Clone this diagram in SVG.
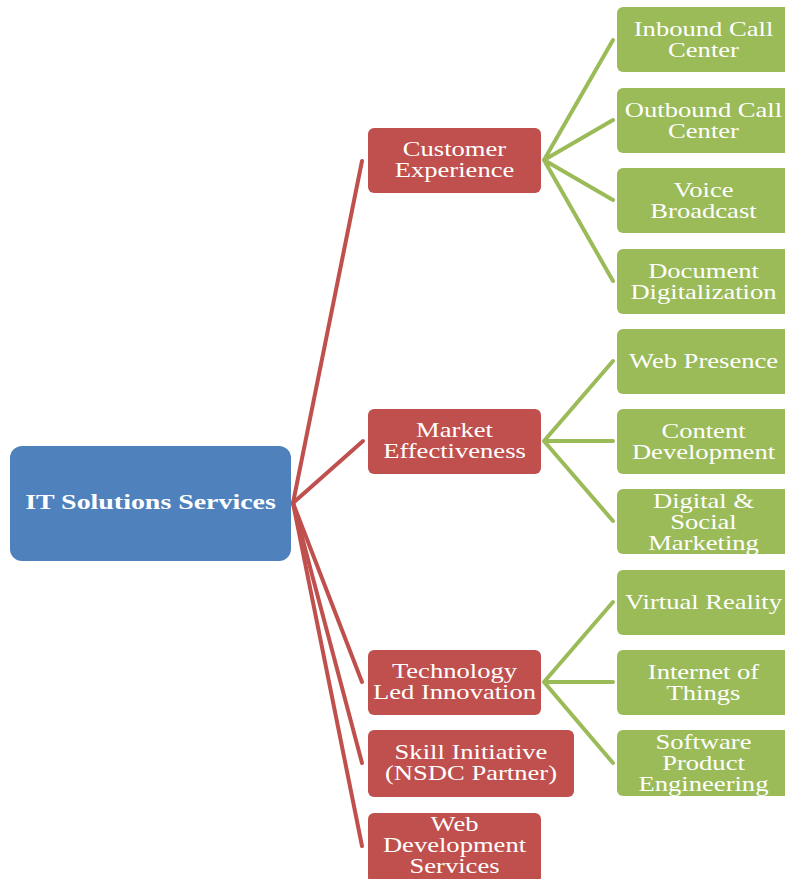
<svg xmlns="http://www.w3.org/2000/svg" width="785" height="879" viewBox="0 0 785 879">
<style>
.root{fill:#4F81BD}
.red{fill:#C0504D}
.green{fill:#9BBB59}
text{font-family:"Liberation Serif","Times New Roman",serif;font-size:20px;fill:#FFFFFF;text-anchor:middle}
.rt{font-weight:bold;font-size:21px}
.rl{stroke:#C0504D;stroke-width:4;fill:none;stroke-linecap:round}
.gl{stroke:#9BBB59;stroke-width:4;fill:none;stroke-linecap:round}
</style>
<rect width="785" height="879" fill="#FFFFFF"/>
<g id="connectors">
<path class="rl" d="M293 503 L362 161"/>
<path class="rl" d="M293 503 L363 441"/>
<path class="rl" d="M293 503 L362 682"/>
<path class="rl" d="M293 503 L362 763"/>
<path class="rl" d="M293 503 L362 846"/>
<path class="gl" d="M544 160 L613 40 M544 160 L613 120 M544 160 L613 200 M544 160 L613 281"/>
<path class="gl" d="M544 441 L613 361 M544 441 L613 441 M544 441 L613 521"/>
<path class="gl" d="M544 682 L613 602 M544 682 L613 682 M544 682 L613 763"/>
</g>
<g id="root">
<rect class="root" x="10" y="446" width="281" height="115" rx="12"/>
<text class="rt" transform="translate(150.5 0) scale(1.33 1)" x="0" y="509">IT Solutions Services</text>
</g>
<g id="customer-experience">
<rect class="red" x="368" y="128" width="173" height="65" rx="6"/>
<text transform="translate(454.5 0) scale(1.33 1)" x="0" y="156.5">Customer</text>
<text transform="translate(454.5 0) scale(1.33 1)" x="0" y="177.5">Experience</text>
</g>
<g id="market-effectiveness">
<rect class="red" x="368" y="409" width="173" height="65" rx="6"/>
<text transform="translate(454.5 0) scale(1.33 1)" x="0" y="437.5">Market</text>
<text transform="translate(454.5 0) scale(1.33 1)" x="0" y="458.5">Effectiveness</text>
</g>
<g id="technology-led-innovation">
<rect class="red" x="368" y="650" width="173" height="65" rx="6"/>
<text transform="translate(454.5 0) scale(1.33 1)" x="0" y="678.5">Technology</text>
<text transform="translate(454.5 0) scale(1.33 1)" x="0" y="699.5">Led Innovation</text>
</g>
<g id="skill-initiative">
<rect class="red" x="368" y="730" width="206" height="67" rx="6"/>
<text transform="translate(471 0) scale(1.33 1)" x="0" y="759.5">Skill Initiative</text>
<text transform="translate(471 0) scale(1.33 1)" x="0" y="780.5">(NSDC Partner)</text>
</g>
<g id="web-development-services">
<rect class="red" x="368" y="813" width="173" height="70" rx="6"/>
<text transform="translate(454.5 0) scale(1.33 1)" x="0" y="831">Web</text>
<text transform="translate(454.5 0) scale(1.33 1)" x="0" y="852">Development</text>
<text transform="translate(454.5 0) scale(1.33 1)" x="0" y="873">Services</text>
</g>
<g id="inbound-call-center">
<rect class="green" x="617" y="7" width="174" height="65" rx="6"/>
<text transform="translate(703.5 0) scale(1.33 1)" x="0" y="36">Inbound Call</text>
<text transform="translate(703.5 0) scale(1.33 1)" x="0" y="57">Center</text>
</g>
<g id="outbound-call-center">
<rect class="green" x="617" y="88" width="174" height="65" rx="6"/>
<text transform="translate(703.5 0) scale(1.33 1)" x="0" y="117">Outbound Call</text>
<text transform="translate(703.5 0) scale(1.33 1)" x="0" y="138">Center</text>
</g>
<g id="voice-broadcast">
<rect class="green" x="617" y="168" width="174" height="65" rx="6"/>
<text transform="translate(703.5 0) scale(1.33 1)" x="0" y="197">Voice</text>
<text transform="translate(703.5 0) scale(1.33 1)" x="0" y="218">Broadcast</text>
</g>
<g id="document-digitalization">
<rect class="green" x="617" y="249" width="174" height="65" rx="6"/>
<text transform="translate(703.5 0) scale(1.33 1)" x="0" y="278">Document</text>
<text transform="translate(703.5 0) scale(1.33 1)" x="0" y="299">Digitalization</text>
</g>
<g id="web-presence">
<rect class="green" x="617" y="329" width="174" height="65" rx="6"/>
<text transform="translate(703.5 0) scale(1.33 1)" x="0" y="368">Web Presence</text>
</g>
<g id="content-development">
<rect class="green" x="617" y="409" width="174" height="65" rx="6"/>
<text transform="translate(703.5 0) scale(1.33 1)" x="0" y="438">Content</text>
<text transform="translate(703.5 0) scale(1.33 1)" x="0" y="459">Development</text>
</g>
<g id="digital-social-marketing">
<rect class="green" x="617" y="489" width="174" height="65" rx="6"/>
<text transform="translate(703.5 0) scale(1.33 1)" x="0" y="508">Digital &amp;</text>
<text transform="translate(703.5 0) scale(1.33 1)" x="0" y="529">Social</text>
<text transform="translate(703.5 0) scale(1.33 1)" x="0" y="550">Marketing</text>
</g>
<g id="virtual-reality">
<rect class="green" x="617" y="570" width="174" height="65" rx="6"/>
<text transform="translate(703.5 0) scale(1.33 1)" x="0" y="609">Virtual Reality</text>
</g>
<g id="internet-of-things">
<rect class="green" x="617" y="650" width="174" height="65" rx="6"/>
<text transform="translate(703.5 0) scale(1.33 1)" x="0" y="679">Internet of</text>
<text transform="translate(703.5 0) scale(1.33 1)" x="0" y="700">Things</text>
</g>
<g id="software-product-engineering">
<rect class="green" x="617" y="730" width="174" height="66" rx="6"/>
<text transform="translate(703.5 0) scale(1.33 1)" x="0" y="749">Software</text>
<text transform="translate(703.5 0) scale(1.33 1)" x="0" y="770">Product</text>
<text transform="translate(703.5 0) scale(1.33 1)" x="0" y="791">Engineering</text>
</g>
</svg>
